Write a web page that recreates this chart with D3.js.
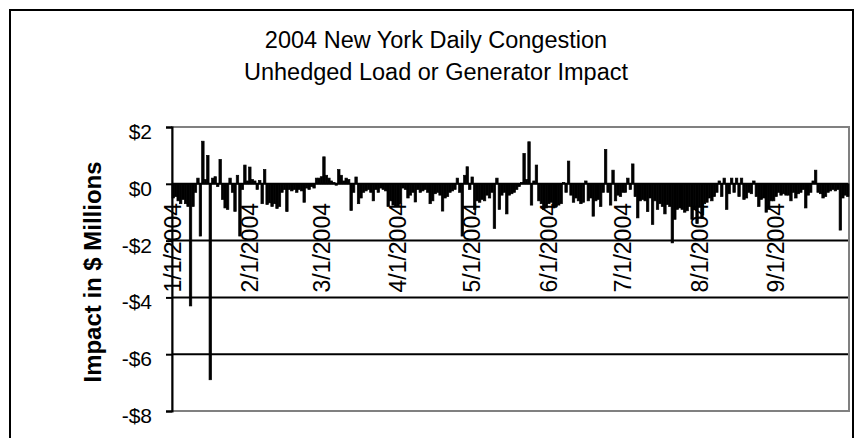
<!DOCTYPE html>
<html>
<head>
<meta charset="utf-8">
<script src="https://cdn.jsdelivr.net/npm/d3@7"></script>
<style>
  body { margin: 0; background: #fff; }
  text { font-family: "Liberation Sans", Arial, sans-serif; fill: #000; }
</style>
</head>
<body>
<div id="chart"></div>
<script>
// Daily impact values ($ millions), one array per month
const jan = [-0.5, -0.45, -0.6, -0.7, -0.55, -0.7, -0.8, -4.3, -0.8, -0.3, 0.2, -1.84, 1.5, 0.15, 1.0, -6.9, 0.2, 0.25, -0.1, 0.86, -0.55, -0.85, -0.9, 0.2, -0.3, -0.97, 0.3, -1.84, -0.2, 0.66, 0.1]
const feb = [0.59, 0.15, 0.1, -0.2, 0.12, -0.7, 0.5, -0.73, -0.67, -0.8, -0.7, -0.87, -0.8, -0.3, -0.2, -0.98, -0.2, -0.25, -0.2, -0.3, -0.2, -0.25, -0.65, -0.15, -0.2, -0.1, -0.15, 0.2, 0.2]
const mar = [0.25, 0.95, 0.3, 0.2, 0.1, 0.05, -0.05, 0.5, 0.3, 0.1, 0.2, 0.15, -0.94, -0.3, 0.24, -0.7, -0.5, -0.3, -0.25, -0.2, -0.3, -0.6, -0.2, -0.3, -0.15, -0.2, -0.25, -0.8, -0.6, -0.75, -0.8]
const apr = [-0.8, -0.7, -0.15, -0.2, -0.5, -0.4, -0.3, -0.64, -0.2, -0.3, -0.25, -0.2, -0.3, -0.7, -0.6, -0.35, -0.3, -0.4, -0.96, -0.5, -0.45, -0.3, -0.25, -0.2, 0.2, -0.3, -1.84, 0.3, 0.6, -0.2]
const may = [0.24, -0.9, -0.6, -0.65, -0.55, -0.6, -0.4, -0.5, -0.3, -1.57, 0.2, -0.9, -0.4, -0.3, -1.06, -0.4, -0.35, -0.3, -0.2, -0.1, 0.05, 1.07, 0.15, 1.48, -0.75, 0.1, 0.66, -0.6, -0.7, -0.9, -0.85]
const jun = [-0.7, -0.65, -0.85, -0.8, -0.75, -0.7, 0.05, -0.3, 0.8, -0.4, -0.65, -0.5, -0.6, -0.7, -0.65, 0.1, -0.6, -0.5, -1.14, -0.6, -0.55, -0.8, -0.3, 1.21, -0.3, -0.75, 0.48, -0.6, -0.4, -0.45]
const jul = [-0.3, -0.3, 0.2, -0.2, 0.7, -0.45, -1.2, -0.6, -0.55, -0.6, -0.98, -0.5, -1.43, -0.6, -0.9, -0.7, -0.8, -1.06, -0.73, -0.8, -2.08, -1.25, -0.9, -0.85, -0.9, -1.0, -0.95, -0.8, -1.25, -0.9, -1.4]
const aug = [-0.8, -1.2, -0.7, -0.65, -0.5, -0.6, -0.45, -0.3, 0.1, -0.45, 0.2, -0.9, -0.35, 0.2, -0.3, 0.2, -0.45, 0.2, -0.55, -0.5, -0.3, -0.35, 0.1, -0.45, -0.8, -0.55, -0.5, -1.0, -0.9, -0.6, -0.6]
const sep = [-0.45, -0.3, -0.4, -0.35, -0.4, -0.4, -0.6, -0.3, -0.5, -0.35, -0.3, -0.2, -0.85, -0.4, -0.3, 0.1, 0.48, -0.3, -0.35, -0.5, -0.45, -0.3, -0.25, -0.2, -0.25, -0.2, -1.63, -0.5, -0.4, -0.45]

// Axis labels
const monthLabels = ["1/1/2004", "2/1/2004", "3/1/2004", "4/1/2004", "5/1/2004", "6/1/2004", "7/1/2004", "8/1/2004", "9/1/2004"]
const yTicks = [2, 0, -2, -4, -6, -8]
const gridValues = [0, -2, -4, -6]

const values = [].concat(jan, feb, mar, apr, may, jun, jul, aug, sep)
const days = d3.timeDay.range(new Date(2004, 0, 1), new Date(2004, 9, 1))
const data = days.map((d, i) => ({ date: d, value: values[i] }))
const fmt = d3.timeFormat("%-m/%-d/%Y")

// Plot area
const plot = { left: 172, right: 849, top: 127, bottom: 411 }

const svg = d3
  .select("#chart")
  .append("svg")
  .attr("width", 855)
  .attr("height", 438)

// Outer chart border
svg.append("rect")
  .attr("x", 10).attr("y", 10)
  .attr("width", 843).attr("height", 440)
  .attr("fill", "#fff")
  .attr("stroke", "#000")
  .attr("stroke-width", 2)

// Scales
const xscale = d3.scaleBand().domain(days.map(fmt)).range([plot.left, plot.right]).padding(0)
const yscale = d3.scaleLinear().domain([-8, 2]).range([plot.bottom, plot.top])

// Title
const title = svg.append("text").attr("text-anchor", "middle").style("font-size", "23.5px")
title.append("tspan").attr("x", 436).attr("y", 48).text("2004 New York Daily Congestion")
title.append("tspan").attr("x", 436).attr("y", 80).text("Unhedged Load or Generator Impact")

// Gridlines
svg.append("g")
  .selectAll("line")
  .data(gridValues)
  .join("line")
  .attr("x1", plot.left).attr("x2", plot.right)
  .attr("y1", (d) => yscale(d)).attr("y2", (d) => yscale(d))
  .attr("stroke", "#000")
  .attr("stroke-width", 2)

// Plot area border (gray)
svg.append("rect")
  .attr("x", plot.left).attr("y", plot.top)
  .attr("width", plot.right - plot.left).attr("height", plot.bottom - plot.top)
  .attr("fill", "none")
  .attr("stroke", "#808080")
  .attr("stroke-width", 2)

// Bars
svg.append("g")
  .selectAll("rect")
  .data(data)
  .join("rect")
  .attr("x", (d) => xscale(fmt(d.date)))
  .attr("width", xscale.bandwidth())
  .attr("y", (d) => yscale(Math.max(0, d.value)))
  .attr("height", (d) => Math.abs(yscale(d.value) - yscale(0)))
  .attr("fill", "#000")
  .attr("stroke", "#000")
  .attr("stroke-width", 0.7)

// Y axis
const yaxis = d3.axisLeft(yscale)
  .tickValues(yTicks)
  .tickSize(6)
  .tickPadding(14)
  .tickFormat((d) => (d < 0 ? "-$" : "$") + Math.abs(d))
const g_yaxis = svg.append("g")
  .attr("transform", `translate(${plot.left},0)`)
  .call(yaxis)
g_yaxis.select(".domain").attr("stroke", "#000").attr("stroke-width", 2)
g_yaxis.selectAll(".tick line").attr("stroke", "#000").attr("stroke-width", 2)
g_yaxis.selectAll(".tick text")
  .attr("dy", "0.55em")
  .style("font-size", "21px")
  .style("font-family", "'Liberation Sans', Arial, sans-serif")

// Y axis title
svg.append("text")
  .attr("transform", "translate(101,272) rotate(-90)")
  .attr("text-anchor", "middle")
  .attr("textLength", 221)
  .attr("lengthAdjust", "spacingAndGlyphs")
  .style("font-size", "23px")
  .style("font-weight", "bold")
  .text("Impact in $ Millions")

// Category labels, rotated, hanging below the zero line
svg.append("g")
  .selectAll("text")
  .data(monthLabels)
  .join("text")
  .attr("transform", (d) => `translate(${xscale(d) + xscale.bandwidth() / 2},203) rotate(-90)`)
  .attr("text-anchor", "end")
  .attr("dy", "0.35em")
  .style("font-size", "23px")
  .text((d) => d)
</script>
</body>
</html>
